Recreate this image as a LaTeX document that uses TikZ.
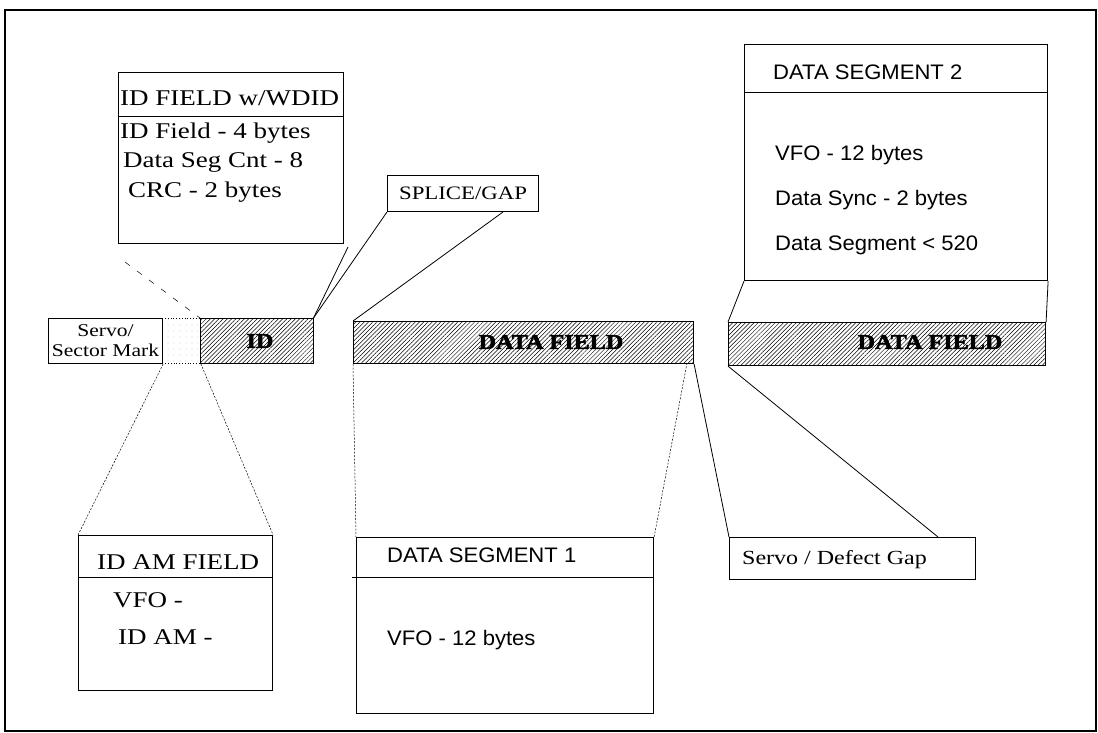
\documentclass[tikz,border=0pt]{standalone}
\usepackage{fontspec}
\newfontfamily\scanserif[FakeStretch=1.2]{Liberation Serif}
\newfontfamily\scanheavy[FakeStretch=1.15,FakeBold=2.5]{Liberation Serif Bold}
\newfontfamily\scansans[FakeStretch=1.05]{Liberation Sans}
\usetikzlibrary{patterns.meta}
\begin{document}
\begin{tikzpicture}[x=1pt,y=-1pt]
    \tikzset{box/.style = {draw, line width=1.1pt, inner sep=0pt}}
    \tikzset{field/.style = {box, pattern={Lines[angle=45,distance=3pt,line width=0.5pt]}}}
    \tikzset{txt/.style = {anchor=west, inner sep=0pt}}
    \tikzset{roman/.style = {font=\scanserif\fontsize{22.5}{24}\selectfont}}
    \tikzset{sans/.style = {font=\scansans\fontsize{21}{23}\selectfont}}
    \tikzset{heavy/.style = {inner sep=0pt, font=\scanheavy\fontsize{21}{21}\selectfont}}
    \tikzset{callout/.style = {line width=0.8pt}}
    \tikzset{guide/.style = {line width=0.5pt, dash pattern=on 2pt off 1.5pt}}
    \useasboundingbox (0,0) rectangle (1098,733);
    \draw[line width=1.3pt] (5,10) rectangle (1096,731);
    % track strip
    \node[box, minimum width=114, minimum height=45, anchor=north west, align=center,
          font=\scanserif\fontsize{18}{20}\selectfont] (servo) at (48,318) {Servo/\\Sector Mark};
    \node[draw, dotted, line width=0.8pt, inner sep=0pt, minimum width=38, minimum height=45, anchor=north west,
          pattern={Dots[distance=6pt,radius=0.4pt]}, pattern color=gray] (amgap) at (162,318) {};
    \node[field, minimum width=113, minimum height=45, anchor=north west] (idbox) at (200,318) {};
    \node[heavy] (idtext) at (260,341) {ID};
    \node[field, minimum width=340, minimum height=42, anchor=north west] (df1) at (353,321) {};
    \node[heavy] (df1text) at (551,342) {DATA FIELD};
    \node[field, minimum width=317, minimum height=43, anchor=north west] (df2) at (728,322) {};
    \node[heavy] (df2text) at (930,342) {DATA FIELD};
    % ID field box
    \node[box, minimum width=225, minimum height=171, anchor=north west] (idfield) at (118,72) {};
    \draw[line width=0.8pt] (idfield.west |- 0,116) -- (idfield.east |- 0,116);
    \node[txt, roman] (idfhead) at (120,98) {ID FIELD w/WDID};
    \node[txt, roman] (idf1) at (120,133) {ID Field - 4 bytes};
    \node[txt, roman] (idf2) at (123,162) {Data Seg Cnt - 8};
    \node[txt, roman] (idf3) at (128,192) {CRC - 2 bytes};
    % splice / gap
    \node[box, minimum width=151, minimum height=36, anchor=south west,
          font=\scanserif\fontsize{19}{19}\selectfont] (splice) at (387,212) {SPLICE/GAP};
    \coordinate (splicetip) at (503,212);
    \coordinate (idtail) at (348,247);
    \draw[callout] (idbox.north east) -- (splice.south west);
    \draw[callout] (idbox.north east) -- (idtail);
    \draw[callout] (df1.north west) -- (splicetip);
    \coordinate (idftail) at (125,262);
    \draw[line width=0.5pt, dash pattern=on 6pt off 9pt] (idftail) -- (idbox.north west);
    % data segment 2
    \node[box, minimum width=303, minimum height=236, anchor=north west] (ds2) at (744,44) {};
    \draw[line width=0.8pt] (ds2.west |- 0,92) -- (ds2.east |- 0,92);
    \node[txt, sans] (ds2head) at (773,72) {DATA SEGMENT 2};
    \node[txt, sans] (ds2a) at (775,155) {VFO - 12 bytes};
    \node[txt, sans] (ds2b) at (775,200) {Data Sync - 2 bytes};
    \node[txt, sans] (ds2c) at (775,245) {Data Segment < 520};
    \draw[callout] (ds2.south west) -- (df2.north west);
    \draw[callout] (ds2.south east) -- (df2.north east);
    % ID AM field
    \node[box, minimum width=194, minimum height=155, anchor=north west] (idam) at (78,535) {};
    \draw[line width=0.8pt] (idam.west |- 0,577) -- (idam.east |- 0,577);
    \node[txt, roman] (idamhead) at (97,562) {ID AM FIELD};
    \node[txt, roman] (idam1) at (113,600) {VFO -};
    \node[txt, roman] (idam2) at (118,637) {ID AM -};
    \draw[guide] (servo.south east) -- (idam.north west);
    \draw[guide] (amgap.south east) -- (idam.north east);
    % data segment 1
    \node[box, minimum width=297, minimum height=176, anchor=north west] (ds1) at (356,537) {};
    \draw[line width=0.8pt] (352,577) -- (ds1.east |- 0,577);
    \node[txt, sans] (ds1head) at (387,555) {DATA SEGMENT 1};
    \node[txt, sans] (ds1a) at (387,640) {VFO - 12 bytes};
    \coordinate (df1guide) at (687,363);
    \draw[guide] (df1.south west) -- (ds1.north west);
    \draw[guide] (df1guide) -- (ds1.north east);
    % servo / defect gap
    \node[box, minimum width=246, minimum height=42, anchor=north west] (gapbox) at (729,537) {};
    \node[txt, font=\scanserif\fontsize{20}{20}\selectfont] (gaptext) at (742,560) {Servo / Defect Gap};
    \coordinate (gaptip) at (938,537);
    \draw[callout] (df1.south east) -- (gapbox.north west);
    \draw[callout] (df2.south west) -- (gaptip);
\end{tikzpicture}
\end{document}
